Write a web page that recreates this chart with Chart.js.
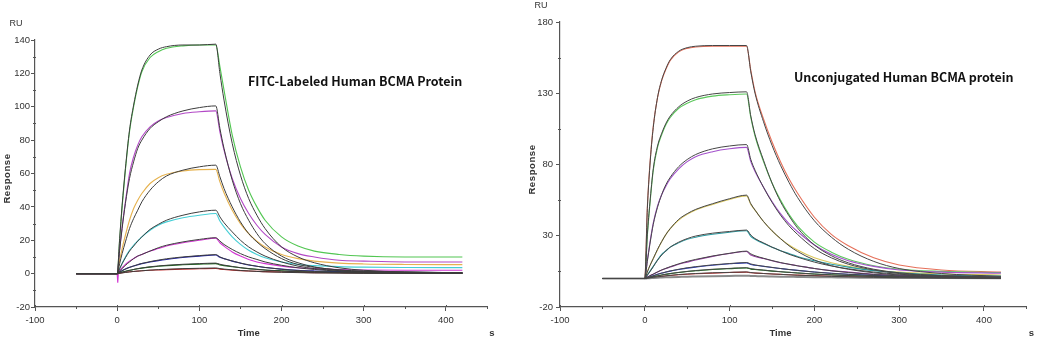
<!DOCTYPE html>
<html>
<head>
<meta charset="utf-8">
<script src="https://cdn.jsdelivr.net/npm/chart.js@4.4.1/dist/chart.umd.min.js"></script>
<style>
  html, body { margin: 0; padding: 0; background: #fff; }
  #wrap { display: flex; width: 1037px; height: 340px; }
</style>
</head>
<body>
<div id="wrap">
  <canvas id="fitc_canvas" width="518" height="340"></canvas>
  <canvas id="unconj_canvas" width="519" height="340"></canvas>
</div>
<script>
// Sample times (s) shared by every sensorgram: baseline, association to 120 s, then dissociation.
const time_s = [-50, 0, 3, 6, 10, 15, 20, 25, 30, 40, 50, 60, 80, 100, 120,
  125, 130, 140, 150, 160, 170, 180, 200, 220, 240, 270, 300, 350, 420];

const x_ticks = [-100, 0, 100, 200, 300, 400];
const x_minor_ticks = [-50, 50, 150, 250, 350, 450];

// FITC-labeled BCMA, response in RU (measured curve and its fit)
const fitc_y_ticks = [-20, 0, 20, 40, 60, 80, 100, 120, 140];
const fitc_y_minor = [-10, 10, 30, 50, 70, 90, 110, 130];

const fitc_green = [0, 0, 20, 40, 62, 85, 100, 112, 121, 129.5, 133, 135, 136.5, 137, 137,
  124, 110, 83, 64, 50, 40, 32, 22, 16.5, 13.5, 11.5, 10.5, 10, 10];
const fitc_green_fit = [0, 0, 21, 41, 63, 86, 101, 113, 122, 131, 134.5, 136, 137, 137, 137.5,
  120, 104, 78, 59, 45, 35, 27, 16, 10, 6.5, 3.5, 2, 1, 0.5];
const fitc_purple = [0, 0, 15, 28, 43, 60, 70, 77, 82, 88, 91.5, 93.5, 96, 97, 97.5,
  85, 74, 57, 45, 36, 29, 23.5, 16, 12, 10, 8, 7.5, 7, 7];
const fitc_purple_fit = [0, 0, 14, 27, 42, 57, 67, 75, 80, 87, 91, 94, 97.5, 99.5, 100.5,
  87, 75, 56, 42, 32, 24, 18, 10.5, 6.5, 4, 2.2, 1.5, 1, 0.5];
const fitc_orange = [0, 0, 8, 15, 23, 32, 39, 44, 48, 54, 57.5, 59.5, 61.5, 62.3, 62.5,
  55, 48.5, 38, 30, 24, 19.5, 16, 11.5, 9, 7.5, 6.3, 5.8, 5.5, 5.4];
const fitc_orange_fit = [0, 0, 6, 12, 19, 27, 33, 38, 43, 50, 55, 58.5, 62, 64, 65,
  58, 51, 40, 31, 24, 19, 15, 9, 5.5, 3.8, 2.2, 1.4, 0.8, 0.4];
const fitc_cyan = [0, 0, 3, 6, 10, 14, 17, 19.5, 22, 26, 29, 31, 33.5, 35, 36,
  31.5, 28, 22, 17.5, 14, 11.5, 9.5, 7, 5.5, 4.8, 4.2, 3.9, 3.7, 3.6];
const fitc_cyan_fit = [0, 0, 3, 6, 9.5, 13.5, 16.5, 19.5, 22, 26.5, 29.5, 32, 35, 37, 38,
  34, 30.5, 25, 20, 16, 13, 10.5, 7, 4.5, 3, 1.8, 1.1, 0.6, 0.3];
const fitc_magenta = [0, 0, 2, 3.5, 5.5, 7.5, 9, 10.5, 11.5, 13.5, 15, 16.5, 18.5, 20, 21.3,
  18.5, 16.5, 13, 10.5, 8.5, 7, 6, 4.5, 3.5, 3, 2.5, 2.2, 2, 2];
const fitc_magenta_fit = [0, 0, 1.5, 3, 5, 7, 9, 10.5, 11.5, 13.5, 15.5, 17, 19, 20.5, 21.5,
  19.5, 17.5, 14.5, 12, 10, 8.5, 7, 5, 3.5, 2.5, 1.5, 1, 0.5, 0.3];
const fitc_blue = [0, 0, 1, 1.8, 2.8, 3.8, 4.6, 5.3, 6, 7, 7.8, 8.5, 9.7, 10.5, 11.2,
  9.8, 9, 7.5, 6.3, 5.2, 4.4, 3.7, 2.7, 2, 1.6, 1.2, 1, 0.8, 0.6];
const fitc_blue_fit = [0, 0, 0.9, 1.7, 2.7, 3.7, 4.6, 5.4, 6.1, 7.2, 8.1, 8.9, 10, 10.8, 11.4,
  10, 9, 7.6, 6.3, 5.3, 4.4, 3.7, 2.6, 1.8, 1.3, 0.8, 0.5, 0.3, 0.2];
const fitc_dkgreen = [0, 0, 0.5, 0.9, 1.4, 2, 2.5, 2.9, 3.3, 3.9, 4.4, 4.8, 5.3, 5.7, 6,
  5.2, 4.8, 4.1, 3.5, 3, 2.6, 2.2, 1.7, 1.3, 1, 0.8, 0.6, 0.5, 0.4];
const fitc_dkgreen_fit = [0, 0, 0.4, 0.8, 1.3, 1.9, 2.5, 3, 3.4, 4.1, 4.6, 5, 5.6, 6, 6.3,
  5.6, 5.1, 4.3, 3.6, 3, 2.5, 2.1, 1.5, 1.1, 0.8, 0.5, 0.3, 0.2, 0.1];
const fitc_red = [0, 0, 0.3, 0.5, 0.8, 1.1, 1.3, 1.5, 1.7, 2, 2.2, 2.4, 2.7, 2.9, 3.1,
  2.7, 2.5, 2.1, 1.8, 1.6, 1.4, 1.2, 1, 0.8, 0.6, 0.5, 0.4, 0.3, 0.2];
const fitc_red_fit = [0, 0, 0.2, 0.4, 0.7, 1, 1.3, 1.5, 1.7, 2.1, 2.4, 2.6, 3, 3.2, 3.4,
  3, 2.7, 2.3, 1.9, 1.6, 1.3, 1.1, 0.8, 0.6, 0.4, 0.3, 0.2, 0.1, 0.1];
// injection artefact on the magenta trace
const fitc_spike_t = [0, 0.7, 1.6];
const fitc_spike_ru = [0, -5.5, 1.5];

// Unconjugated BCMA
const unconj_y_ticks = [-20, 30, 80, 130, 180];
const unconj_y_minor = [5, 55, 105, 155];

const unconj_red = [0, 0, 50, 80, 107, 127, 139, 147, 153, 159, 161.5, 162.5, 163, 163, 163,
  146, 131, 112, 96, 82, 70, 60, 43, 31, 23, 14.5, 9.5, 6, 4.5];
const unconj_red_fit = [0, 0, 49, 79, 106, 127, 139.5, 147.5, 153.5, 159.5, 162, 163, 163.5, 163.5, 163.5,
  145, 130, 110, 93.5, 79.5, 67.5, 57, 40.5, 29, 20.5, 12, 7, 3.5, 1.5];
const unconj_green = [0, 0, 30, 52, 76, 92, 101, 108, 113, 119.5, 123, 125.5, 128, 129, 129.5,
  113, 100, 82, 67, 55, 45, 37, 25.5, 18.5, 13.5, 9, 6.5, 5, 4.2];
const unconj_green_fit = [0, 0, 31, 53, 77, 93, 102, 109, 114, 120.5, 124.5, 127, 129.5, 130.5, 131,
  114, 101, 83, 67, 54, 44, 35.5, 23.5, 16, 11, 6.5, 4, 2, 1];
const unconj_purple = [0, 0, 13, 25, 39, 51, 59, 65, 70, 77, 82, 85.5, 89, 91, 92,
  82, 75, 64, 54, 45.5, 38.5, 33, 23.5, 17, 12.5, 8.5, 6, 4.5, 3.8];
const unconj_purple_fit = [0, 0, 12, 24, 38, 50, 59, 66, 71, 78.5, 83.5, 87, 91, 93, 94,
  83.5, 76, 64, 53.5, 44.5, 37, 31, 21, 14.5, 10, 6, 3.5, 2, 0.8];
const unconj_yellow = [0, 0, 5, 9, 14, 20, 26, 31, 35, 41, 45, 48, 52, 55.5, 58,
  52, 48, 40, 33.5, 28, 23.5, 20, 14.5, 11, 8.5, 6, 4.5, 3.2, 2.5];
const unconj_yellow_fit = [0, 0, 4.5, 9, 14, 20.5, 26, 31, 35, 41.5, 45.5, 48.5, 52.5, 56, 58.5,
  52.5, 48, 40, 33.5, 28, 23, 19, 13, 9, 6.5, 4, 2.5, 1.5, 0.5];
const unconj_teal = [0, 0, 2.5, 5, 8.5, 13, 17, 19.5, 22, 25, 27.5, 29, 31, 32.5, 33.5,
  29.5, 27.5, 24.5, 22, 19.5, 17.5, 15.5, 12.5, 10, 8, 5.5, 4, 2.5, 1.8];
const unconj_teal_fit = [0, 0, 2.3, 4.8, 8.3, 12.8, 16.5, 19.5, 22, 25.5, 28, 29.8, 31.8, 33, 34,
  30.5, 28, 25, 22, 19.5, 17, 15, 11.5, 8.8, 6.8, 4.5, 3, 1.6, 0.7];
const unconj_violet = [0, 0, 1, 2, 3, 4.5, 6, 7, 8, 10, 11.5, 13, 15.5, 17.5, 19,
  16.5, 15.5, 14, 12.5, 11, 10, 9, 7, 5.5, 4.5, 3, 2.2, 1.5, 1];
const unconj_violet_fit = [0, 0, 0.9, 1.9, 3.1, 4.6, 6, 7.2, 8.3, 10.3, 12, 13.4, 15.8, 17.7, 19.2,
  17.3, 16, 14.2, 12.6, 11.2, 10, 8.9, 7, 5.4, 4.2, 2.8, 1.8, 0.9, 0.4];
const unconj_blue = [0, 0, 0.6, 1.2, 2, 3, 3.8, 4.5, 5.2, 6.3, 7.3, 8, 9.3, 10.3, 11,
  9.8, 9.3, 8.5, 7.7, 7, 6.3, 5.7, 4.6, 3.7, 3, 2.2, 1.6, 1, 0.6];
const unconj_blue_fit = [0, 0, 0.5, 1.1, 1.9, 2.9, 3.8, 4.6, 5.3, 6.5, 7.5, 8.3, 9.6, 10.5, 11.2,
  10.2, 9.5, 8.6, 7.8, 7, 6.3, 5.7, 4.5, 3.6, 2.9, 2, 1.4, 0.8, 0.3];
const unconj_dkgreen = [0, 0, 0.4, 0.8, 1.3, 1.9, 2.5, 3, 3.4, 4.2, 4.9, 5.4, 6.3, 6.9, 7.4,
  6.6, 6.3, 5.8, 5.2, 4.7, 4.3, 3.9, 3.2, 2.6, 2.1, 1.5, 1.1, 0.7, 0.4];
const unconj_dkgreen_fit = [0, 0, 0.3, 0.7, 1.2, 1.8, 2.4, 3, 3.5, 4.3, 5, 5.6, 6.5, 7.1, 7.6,
  6.9, 6.5, 5.9, 5.3, 4.8, 4.3, 3.9, 3.1, 2.5, 2, 1.4, 0.9, 0.5, 0.2];
const unconj_red2 = [0, 0, 0.25, 0.5, 0.8, 1.2, 1.5, 1.8, 2.1, 2.6, 3, 3.3, 3.8, 4.2, 4.5,
  4, 3.8, 3.5, 3.2, 2.9, 2.6, 2.4, 2, 1.6, 1.3, 1, 0.7, 0.5, 0.3];
const unconj_red2_fit = [0, 0, 0.2, 0.5, 0.8, 1.2, 1.5, 1.9, 2.2, 2.8, 3.2, 3.5, 4, 4.3, 4.6,
  4.2, 3.9, 3.5, 3.2, 2.9, 2.6, 2.3, 1.9, 1.5, 1.2, 0.8, 0.6, 0.3, 0.1];
const unconj_gray = [0, 0, 0.1, 0.2, 0.4, 0.6, 0.7, 0.8, 0.9, 1.1, 1.3, 1.4, 1.6, 1.8, 2,
  1.8, 1.7, 1.5, 1.4, 1.3, 1.2, 1.1, 0.9, 0.8, 0.7, 0.5, 0.4, 0.3, 0.2];

/**
 * Pairs a response array with the shared time axis.
 * @param {number[]} values response in RU, one per entry of time_s.
 * @return {Object[]} points for a linear x scale.
 */
function to_points(values) {
  return time_s.map((t, i) => ({x: t, y: values[i]}));
}

/**
 * Builds the line datasets for one panel. Fits go on top of the raw traces.
 * @param {Object[]} series list of {raw, fit, color}.
 * @param {string} fit_color colour of the fitted curves.
 */
function build_datasets(series, fit_color) {
  const datasets = [];
  for (const s of series) {
    datasets.push({
      data: to_points(s.raw),
      borderColor: s.color,
      borderWidth: s.width || 1.1,
      order: 2
    });
    if (s.fit) {
      datasets.push({
        data: to_points(s.fit),
        borderColor: fit_color,
        borderWidth: 1,
        order: 1
      });
    }
  }
  return datasets;
}

/**
 * Minor tick marks, unit labels, axis names and the panel heading.
 */
function make_decorations(panel) {
  return {
    id: 'decorations',
    afterDraw(chart) {
      const ctx = chart.ctx;
      const x_scale = chart.scales.x;
      const y_scale = chart.scales.y;
      const area = chart.chartArea;
      ctx.save();
      ctx.strokeStyle = '#555';
      ctx.lineWidth = 1;
      ctx.beginPath();
      for (const v of x_minor_ticks) {
        const px = Math.round(x_scale.getPixelForValue(v)) + 0.5;
        ctx.moveTo(px, area.bottom - 1);
        ctx.lineTo(px, area.bottom + 2);
      }
      for (const v of x_ticks) {
        const px = Math.round(x_scale.getPixelForValue(v)) + 0.5;
        ctx.moveTo(px, area.bottom - 2);
        ctx.lineTo(px, area.bottom);
      }
      for (const v of panel.y_minor) {
        const py = Math.round(y_scale.getPixelForValue(v)) + 0.5;
        ctx.moveTo(area.left - 2, py);
        ctx.lineTo(area.left + 1, py);
      }
      ctx.stroke();

      ctx.fillStyle = '#333';
      ctx.textAlign = 'center';
      ctx.textBaseline = 'middle';
      ctx.font = '9px "Liberation Sans"';
      ctx.fillText('RU', area.left - 19, area.top - 16);
      ctx.font = 'bold 9.5px "Liberation Sans"';
      ctx.fillText('Time', x_scale.getPixelForValue(160), 333);
      ctx.fillText('s', area.right + 5, 333);

      ctx.save();
      ctx.translate(area.left - 28, (area.top + area.bottom) / 2 + 5);
      ctx.rotate(-Math.PI / 2);
      ctx.letterSpacing = '0.6px';
      ctx.fillText('Response', 0, 0);
      ctx.restore();

      ctx.fillStyle = '#111';
      ctx.textAlign = 'left';
      ctx.font = 'bold 12.5px "Noto Sans CJK SC"';
      ctx.fillText(panel.title, panel.title_x, panel.title_y);
      ctx.restore();
    }
  };
}

function make_chart(canvas_id, panel) {
  const tick_font = {family: 'Liberation Sans', size: 9.5};
  new Chart(document.getElementById(canvas_id), {
    type: 'line',
    data: {datasets: panel.datasets},
    options: {
      responsive: false,
      animation: false,
      events: [],
      layout: {padding: {top: panel.pad_top, right: panel.pad_right, left: 0, bottom: 0}},
      elements: {
        point: {radius: 0},
        line: {fill: false, cubicInterpolationMode: 'monotone'}
      },
      plugins: {legend: {display: false}, tooltip: {enabled: false}},
      scales: {
        x: {
          type: 'linear',
          min: -100,
          max: 450,
          afterBuildTicks: (scale) => { scale.ticks = x_ticks.map(v => ({value: v})); },
          afterFit: (scale) => { scale.height = 33; },
          ticks: {font: tick_font, color: '#333', padding: 4, maxRotation: 0, autoSkip: false,
            callback: (v) => String(v)},
          grid: {drawOnChartArea: false, tickLength: 4, color: '#555'},
          border: {color: '#555', width: 1.2}
        },
        y: {
          type: 'linear',
          min: panel.y_ticks[0],
          max: panel.y_ticks[panel.y_ticks.length - 1],
          afterBuildTicks: (scale) => { scale.ticks = panel.y_ticks.map(v => ({value: v})); },
          afterFit: (scale) => { scale.width = panel.y_width; },
          ticks: {font: tick_font, color: '#333', padding: panel.y_pad, autoSkip: false,
            callback: (v) => String(v)},
          grid: {drawOnChartArea: false, tickLength: 4, color: '#555'},
          border: {color: '#555', width: 1.2}
        }
      }
    },
    plugins: [make_decorations(panel)]
  });
}

const fitc_series = [
  {raw: fitc_red, fit: fitc_red_fit, color: '#c02828'},
  {raw: fitc_dkgreen, fit: fitc_dkgreen_fit, color: '#1f6e1f'},
  {raw: fitc_blue, fit: fitc_blue_fit, color: '#2424a8'},
  {raw: fitc_magenta, fit: fitc_magenta_fit, color: '#d236d2'},
  {raw: fitc_cyan, fit: fitc_cyan_fit, color: '#46cfd6'},
  {raw: fitc_orange, fit: fitc_orange_fit, color: '#e6b24e'},
  {raw: fitc_purple, fit: fitc_purple_fit, color: '#b248c6'},
  {raw: fitc_green, fit: fitc_green_fit, color: '#52c652'}
];
const fitc_datasets = build_datasets(fitc_series, '#3c3c3c');
fitc_datasets.push({
  data: fitc_spike_t.map((t, i) => ({x: t, y: fitc_spike_ru[i]})),
  borderColor: '#d236d2',
  borderWidth: 1.1,
  cubicInterpolationMode: 'default',
  tension: 0,
  order: 3
});

const unconj_series = [
  {raw: unconj_gray, color: '#8a8a8a', width: 2},
  {raw: unconj_red2, fit: unconj_red2_fit, color: '#c83030'},
  {raw: unconj_dkgreen, fit: unconj_dkgreen_fit, color: '#1f7a1f'},
  {raw: unconj_blue, fit: unconj_blue_fit, color: '#2c3cc4'},
  {raw: unconj_violet, fit: unconj_violet_fit, color: '#9a3fa8'},
  {raw: unconj_teal, fit: unconj_teal_fit, color: '#2a9ca2'},
  {raw: unconj_yellow, fit: unconj_yellow_fit, color: '#d9c65c'},
  {raw: unconj_purple, fit: unconj_purple_fit, color: '#a452cc'},
  {raw: unconj_green, fit: unconj_green_fit, color: '#5cc85c'},
  {raw: unconj_red, fit: unconj_red_fit, color: '#e6705a'}
];

make_chart('fitc_canvas', {
  datasets: fitc_datasets,
  y_ticks: fitc_y_ticks,
  y_minor: fitc_y_minor,
  y_width: 35,
  y_pad: 1,
  pad_top: 40,
  pad_right: 31,
  title: 'FITC-Labeled Human BCMA Protein',
  title_x: 248,
  title_y: 81
});

make_chart('unconj_canvas', {
  datasets: build_datasets(unconj_series, '#464646'),
  y_ticks: unconj_y_ticks,
  y_minor: unconj_y_minor,
  y_width: 42,
  y_pad: 3,
  pad_top: 22,
  pad_right: 10.6,
  title: 'Unconjugated Human BCMA protein',
  title_x: 276,
  title_y: 77
});
</script>
</body>
</html>
